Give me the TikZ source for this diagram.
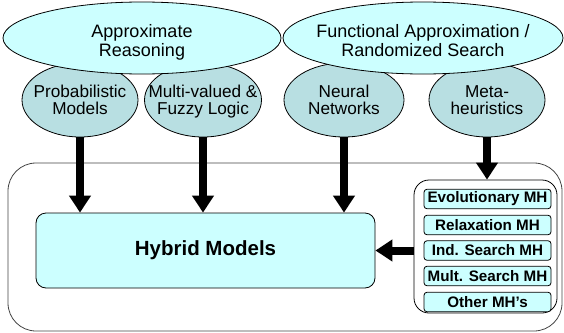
\documentclass[tikz,border=0pt]{standalone}
\usepackage{fontspec}
\setmainfont{Liberation Sans}
\usetikzlibrary{shapes.geometric,arrows.meta}
\definecolor{cyanfill}{HTML}{CCFFFF}
\definecolor{subfill}{HTML}{B8DFE2}
\definecolor{frame}{HTML}{444444}
% two centred lines of zero width, so that the ellipse keeps its set size;
% the optional argument lowers them without changing the box
\newcommand{\twolines}[3][0pt]{\raisebox{#1}[\height][\depth]{\makebox[0pt]{\begin{tabular}{@{}c@{}}#2\\#3\end{tabular}}}}
\begin{document}
\begin{tikzpicture}[x=1pt,y=-1pt,
  topic/.style={ellipse,draw=black,line width=0.8pt,fill=cyanfill,inner sep=0pt,
    minimum height=72pt,font=\fontsize{18}{19.5}\selectfont},
  subtopic/.style={ellipse,draw=black,line width=0.8pt,fill=subfill,inner sep=0pt,
    minimum height=74pt,font=\fontsize{17.2}{17.5}\selectfont},
  mhbox/.style={draw=black,line width=0.8pt,fill=cyanfill,rounded corners=3pt,
    minimum width=127pt,minimum height=19.5pt,inner sep=0pt,
    font=\fontsize{15.2}{16}\selectfont\bfseries},
  bigarrow/.style={line width=8pt,-{Triangle[width=21pt,length=17pt]}}]
\useasboundingbox (0,0) rectangle (564,332);

% outer frame around the hybrid part
\node[draw=frame,line width=0.8pt,rounded corners=28pt,minimum width=554pt,
  minimum height=168pt,inner sep=0pt] (frame) at (285,247) {};

% specific approaches
\node[subtopic,minimum width=116pt] (pm) at (80,100) {\twolines[-2.5pt]{Probabilistic}{Models}};
\node[subtopic,minimum width=117pt] (mv) at (203,100) {\twolines[-2.5pt]{Multi-valued \&}{Fuzzy Logic}};
\node[subtopic,minimum width=120pt] (nn) at (344,100) {\twolines[-2.5pt]{Neural}{Networks}};
\node[subtopic,minimum width=116pt] (mh) at (487,100) {\twolines[-2.5pt]{Meta-}{heuristics}};

% broad families
\node[topic,minimum width=278pt] (ar) at (142,38)
  {\twolines[-5pt]{Approximate}{Reasoning}};
\node[topic,minimum width=280pt] (fa) at (423,38)
  {\twolines[-5pt]{Functional Approximation /}{Randomized Search}};

% hybrid models
\node[draw=black,line width=0.8pt,fill=cyanfill,rounded corners=10pt,
  minimum width=339pt,minimum height=75pt,inner sep=0pt,
  font=\fontsize{20.5}{22}\selectfont\bfseries] (hm) at (205.5,250.5) {Hybrid Models};

% metaheuristic classes
\node[draw=black,line width=0.8pt,fill=white,rounded corners=15pt,
  minimum width=143pt,minimum height=133pt,inner sep=0pt] (mhc) at (485.5,246.5) {};
\node[mhbox] (evo) at (487.5,199) {Evolutionary MH};
\node[mhbox] (rel) at (487.5,225) {Relaxation MH};
\node[mhbox] (ind) at (487.5,250.5) {Ind. Search MH};
\node[mhbox] (mul) at (487.5,276) {Mult. Search MH};
\node[mhbox] (oth) at (487.5,302) {Other MH’s};

% connectors
\draw[bigarrow] (pm.south) -- (pm.south |- hm.north);
\draw[bigarrow] (mv.south) -- (mv.south |- hm.north);
\draw[bigarrow] (nn.south) -- (nn.south |- hm.north);
\draw[bigarrow] (mh.south) -- (mh.south |- mhc.north);
\draw[bigarrow] (mhc.west |- ind) -- (hm.east |- ind);
\end{tikzpicture}
\end{document}
